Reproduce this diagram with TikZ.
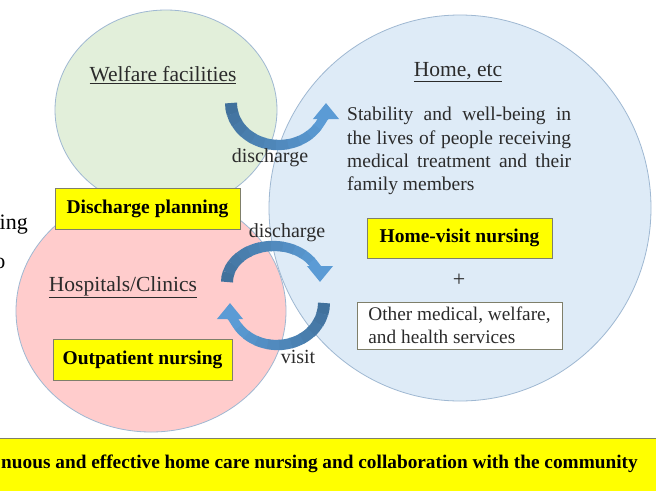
\documentclass[tikz,border=0pt]{standalone}
\usepackage{fontspec}
\setmainfont{Liberation Serif}
\usetikzlibrary{arrows.meta,shapes.geometric}
\definecolor{gfill}{HTML}{E2EFDA}
\definecolor{bfill}{HTML}{DEEBF7}
\definecolor{pfill}{HTML}{FFCCCC}
\definecolor{edgec}{HTML}{9FB8D2}
\definecolor{yfill}{HTML}{FFFF00}
\definecolor{yedge}{HTML}{7F7F6A}
\definecolor{txt}{HTML}{2B2B2B}
\definecolor{adark}{HTML}{41719C}
\definecolor{alight}{HTML}{5B9BD5}
\tikzset{
  region/.style={ellipse, draw=edgec, line width=0.8pt, inner sep=0pt},
  ybox/.style={draw=yedge, fill=yfill, line width=0.8pt, inner sep=0pt,
    font=\fontsize{19.5}{23}\selectfont\bfseries, text=black},
  title/.style={font=\fontsize{21.5}{25}\selectfont, text=txt, inner sep=0pt},
  lbl/.style={font=\fontsize{20}{23}\selectfont, text=txt, inner sep=0pt},
}
% gradient band arrow: cx, cy, rx, ry, start angle, head start angle, end angle
\newcommand\gradarc[7]{%
  \foreach \k in {0,...,9}{%
    \pgfmathsetmacro\sa{#5+(#6-#5)*\k/10}%
    \pgfmathsetmacro\ea{#5+(#6-#5)*(\k+1)/10+0.8*sign(#6-#5)}%
    \pgfmathtruncatemacro\mx{100-\k*10}%
    \pgfmathsetmacro\lw{12-\k*0.3}%
    \draw[line width=\lw pt, draw=adark!\mx!alight]
      ([shift={(\sa:#3 and #4)}]#1,#2) arc[start angle=\sa, end angle=\ea, x radius=#3, y radius=#4];
  }%
  \draw[line width=9pt, draw=alight, -{Triangle[width=25pt,length=16pt]}]
    ([shift={(#6:#3 and #4)}]#1,#2) arc[start angle=#6, end angle=#7, x radius=#3, y radius=#4];
}
\begin{document}
\begin{tikzpicture}[x=1pt,y=-1pt]
\useasboundingbox (0,0) rectangle (656,490);
\clip (0,0) rectangle (656,490);
\fill[white] (0,0) rectangle (656,490);

% regions
\node[region, fill=gfill, minimum width=222pt, minimum height=200pt] (welf) at (166,110) {};
\node[region, fill=bfill, minimum width=382pt, minimum height=386pt] (home) at (460,208) {};
\node[region, fill=pfill, minimum width=270pt, minimum height=242pt] (hosp) at (151,311) {};

% titles
\node[title] (welfT) at (163,75) {\underline{Welfare facilities}};
\node[title] (homeT) at (458,72) {\underline{Home, etc}};
\node[title] (hospT) at (123,287) {\underline{Hospitals/Clinics}};

% paragraph
\node[lbl, anchor=north west, text width=224pt, align=justify,
  font=\fontsize{19.5}{23.3}\selectfont] (para) at (347,107)
  {Stability and well-being in the lives of people receiving medical treatment and their family members};

% boxes
\node[ybox, minimum width=185pt, minimum height=41pt] (dplan) at (147.5,208.5) {Discharge planning};
\node[ybox, minimum width=185pt, minimum height=40pt] (hvn) at (459.5,238) {Home-visit nursing};
\node[ybox, minimum width=179pt, minimum height=41pt] (outp) at (142.5,359.5) {Outpatient nursing};
\node[lbl, font=\fontsize{22}{24}\selectfont] (plus) at (459,280) {+};
\node[draw=yedge, fill=white, line width=0.8pt, inner xsep=6pt, inner ysep=0pt,
  align=left, minimum width=205pt, minimum height=47pt,
  font=\fontsize{19.3}{23}\selectfont, text=txt] (other) at (459.5,325.5)
  {Other medical, welfare,\\and health services};

% arrows
\gradarc{278.5}{103}{47.5}{42}{180}{35}{0}
\gradarc{273.5}{282}{46.5}{36}{180}{325}{360}
\gradarc{277}{303}{47}{42}{0}{145}{180}

% arrow labels
\node[lbl] (dis1) at (270,158) {discharge};
\node[lbl] (dis2) at (287,233) {discharge};
\node[lbl] (visit) at (298,357) {visit};

% fragments at the left edge
\node[font=\fontsize{22}{24}\selectfont, text=black, inner sep=0pt, anchor=base east] (frag1) at (28,229) {ing};
\node[font=\fontsize{22}{24}\selectfont, text=black, inner sep=0pt, anchor=base east] (frag2) at (5.5,268) {o};

% bottom banner
\node[fill=yfill, draw=yedge, line width=1.2pt, minimum width=680pt, minimum height=70pt,
  anchor=north west, inner sep=0pt] (banner) at (-12,438) {};
\node[font=\fontsize{19.3}{23}\selectfont\bfseries, text=black, inner sep=0pt, anchor=base west]
  (bannerT) at (1,468) {nuous and effective home care nursing and collaboration with the community};
\end{tikzpicture}
\end{document}
